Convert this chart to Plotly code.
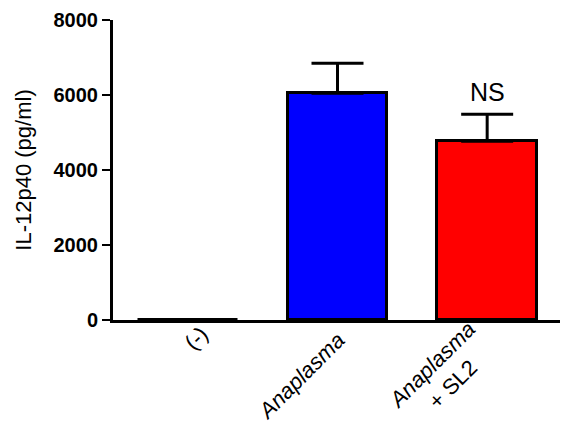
import plotly.graph_objects as go

categories = ["(-)", "Anaplasma", "Anaplasma + SL2"]
tick_labels = ["(-)", "<i>Anaplasma</i>", "<i>Anaplasma</i><br>+ SL2"]
values = [5, 6050, 4770]
errors_up = [0, 800, 720]
colors = ["white", "#0000FF", "#FF0000"]
y_ticks = [0, 2000, 4000, 6000, 8000]
annotation_text = "NS"

# pixel offsets of each category label's centre from (category, 0)
label_offsets = [(8, 18), (-37, 56), (-45, 55)]

fig = go.Figure()
fig.add_trace(go.Bar(
    x=[0, 1, 2], y=values,
    width=0.667,
    marker=dict(color=colors, line=dict(color="black", width=3)),
    error_y=dict(type="data", array=[e if e > 0 else None for e in errors_up],
                 arrayminus=[0, 0, 0], symmetric=False,
                 color="black", thickness=3, width=26, visible=True),
))

fig.add_annotation(x=2, y=values[2] + errors_up[2], text=annotation_text,
                   showarrow=False, yanchor="bottom", yshift=6,
                   font=dict(family="Liberation Sans, Arial", size=25, color="black"))

for i, (lbl, (dx, dy)) in enumerate(zip(tick_labels, label_offsets)):
    fig.add_annotation(x=i, y=0, text=lbl, showarrow=False, textangle=-45,
                       xanchor="center", yanchor="middle", align="center",
                       xshift=dx, yshift=-dy,
                       font=dict(family="Liberation Sans, Arial", size=22, color="black"))

fig.update_layout(
    width=560, height=425,
    margin=dict(l=105, r=6, t=12, b=113),
    paper_bgcolor="white", plot_bgcolor="white",
    showlegend=False,
    bargap=0,
    font=dict(family="Liberation Sans, Arial", color="black"),
)
fig.update_xaxes(
    range=[-0.5, 2.5], tickmode="array", tickvals=[0, 1, 2], showticklabels=False,
    showline=True, linecolor="black",
    linewidth=3, showgrid=False, zeroline=False, ticks="", automargin=False,
)
fig.update_yaxes(
    range=[0, 8000], tickmode="array", tickvals=y_ticks,
    ticktext=[str(v) for v in y_ticks],
    tickfont=dict(size=20, weight="bold"), showline=True, linecolor="black",
    linewidth=3, ticks="outside", ticklen=8, tickwidth=2, tickcolor="black",
    showgrid=False, zeroline=False, automargin=False,
    title=dict(text="IL-12p40 (pg/ml)", font=dict(size=22), standoff=16),
)

fig.write_html("out.html")
